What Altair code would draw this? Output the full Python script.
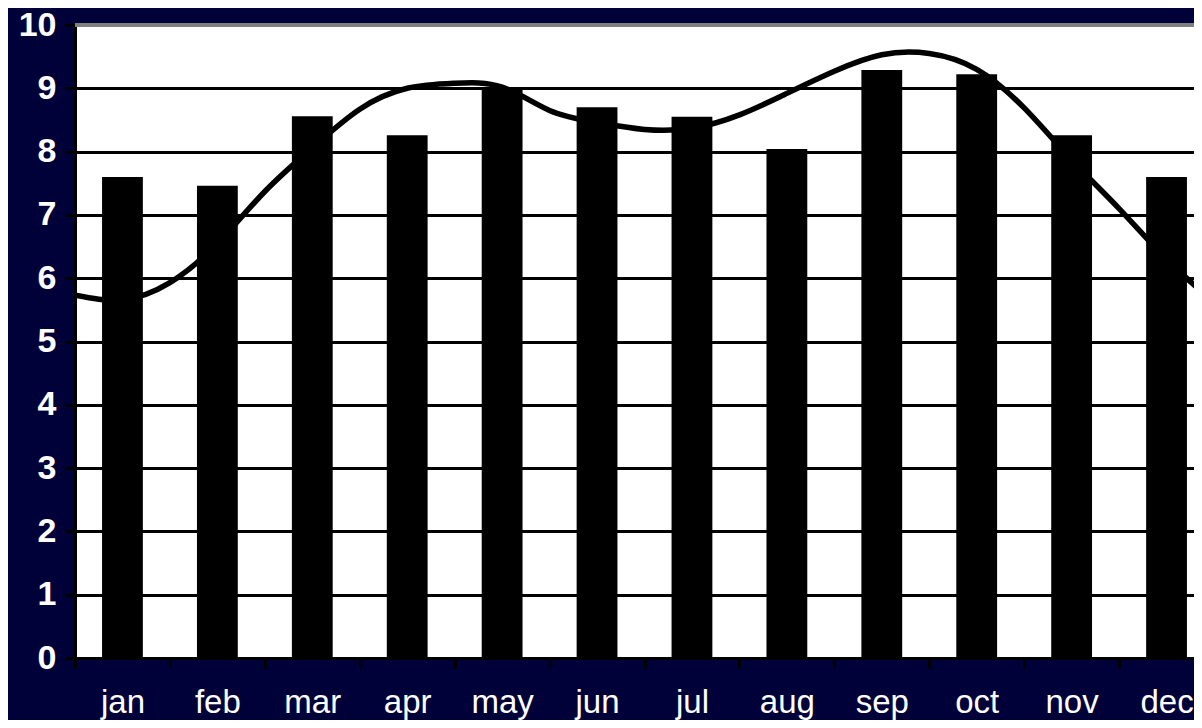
import json
import altair as alt
import pandas as pd

# ---- data ----
months = ["jan", "feb", "mar", "apr", "may", "jun", "jul", "aug", "sep", "oct", "nov", "dec"]
bar_values = [7.6, 7.46, 8.56, 8.26, 9.0, 8.7, 8.55, 8.04, 9.29, 9.22, 8.26, 7.6]

# smoothed line, read at positions along the month axis (0 = left edge of jan)
line_x = [0, 0.5, 1, 1.5, 2, 2.5, 3, 3.5, 4, 4.5, 5, 5.5, 6, 6.5, 7, 7.5, 8, 8.5, 9, 9.5, 10, 10.5, 11, 11.5, 12]
line_values = [5.73, 5.66, 5.93, 6.55, 7.37, 8.06, 8.67, 9.0, 9.08, 9.02, 8.65, 8.46, 8.35, 8.37, 8.58,
               8.92, 9.27, 9.53, 9.55, 9.3, 8.69, 7.87, 7.1, 6.3, 5.62]

y_ticks = list(range(0, 11))
x_ticks = [i / 2 for i in range(25)]

W, H = 1119, 633

bars_df = pd.DataFrame({"month": months, "idx": list(range(12)), "value": bar_values})
line_df = pd.DataFrame({"pos": line_x, "value": line_values})

xscale = alt.Scale(domain=[0, 12], range=[0, 1139], nice=False, zero=False)
yscale = alt.Scale(domain=[0, 10], nice=False)

label_expr = ("datum.value % 1 === 0.5 ? " + json.dumps(months) +
              "[floor(datum.value)] : ''")

x_axis = alt.Axis(
    values=x_ticks, labelExpr=label_expr, title=None, grid=False,
    domainColor="black", domainWidth=3,
    tickColor="black", tickWidth=3, tickSize=10,
    tickOpacity={"condition": {"test": "datum.value % 1 === 0", "value": 1}, "value": 0},
    labelColor="white", labelFont="Liberation Sans", labelFontSize=33,
    labelFontWeight="normal", labelBaseline="alphabetic", labelPadding=44,
    labelOverlap=False, labelFlush=False,
)
y_axis = alt.Axis(
    values=y_ticks, title=None, grid=True, gridColor="black", gridWidth=3, gridOpacity=1,
    domainColor="black", domainWidth=3,
    tickColor="black", tickWidth=3, tickSize=10,
    labelColor="white", labelFont="Liberation Sans", labelFontSize=34,
    labelFontWeight="bold", labelPadding=9,
)

bars = alt.Chart(bars_df).transform_calculate(
    x0="datum.idx + 0.285", x1="datum.idx + 0.715"
).mark_bar(color="black", clip=True).encode(
    x=alt.X("x0:Q", scale=xscale, axis=x_axis),
    x2="x1:Q",
    y=alt.Y("value:Q", scale=yscale, axis=y_axis),
    y2=alt.datum(0),
)

line = alt.Chart(line_df).mark_line(
    color="black", strokeWidth=5.5, interpolate="natural", clip=True
).encode(
    x=alt.X("pos:Q", scale=xscale, axis=x_axis),
    y=alt.Y("value:Q", scale=yscale, axis=y_axis),
)

border = alt.Chart(pd.DataFrame({"a": [0]})).mark_rule(
    color="#808080", strokeWidth=4
).encode(x=alt.value(0), x2=alt.value(W), y=alt.value(0))

chart = alt.layer(bars, line, border).properties(
    width=W, height=H, background="#01013a",
    padding={"left": 67, "top": 17, "right": 0, "bottom": 62},
    autosize=alt.AutoSizeParams(type="none"),
).configure_view(stroke=None, fill="white")

chart.save("out.html", embed_options={"renderer": "svg", "actions": False})
